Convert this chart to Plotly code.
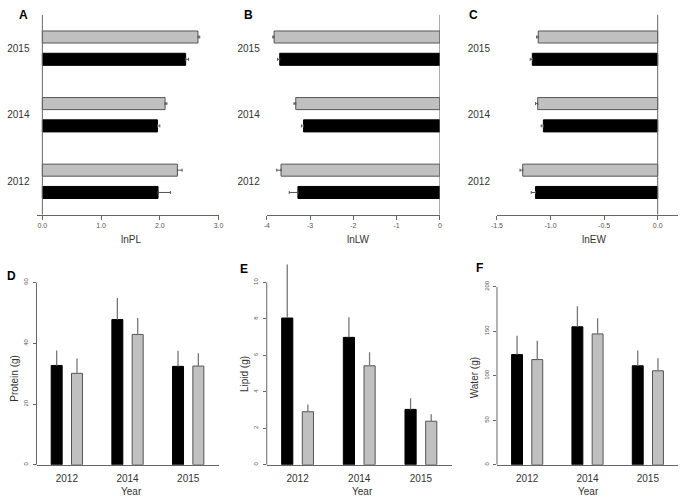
import plotly.graph_objects as go

W, H = 685, 497
years = ["2012", "2014", "2015"]

# Top panels (horizontal bars): black series and gray series, with one-sided errors
lnPL_black = [1.97, 1.96, 2.44]
lnPL_black_err = [0.21, 0.04, 0.05]
lnPL_gray = [2.30, 2.09, 2.65]
lnPL_gray_err = [0.08, 0.03, 0.03]

lnLW_black = [-3.28, -3.15, -3.70]
lnLW_black_err = [0.20, 0.05, 0.05]
lnLW_gray = [-3.67, -3.33, -3.83]
lnLW_gray_err = [0.10, 0.04, 0.03]

lnEW_black = [-1.14, -1.067, -1.17]
lnEW_black_err = [0.04, 0.02, 0.02]
lnEW_gray = [-1.26, -1.12, -1.115]
lnEW_gray_err = [0.025, 0.02, 0.015]

# Bottom panels (vertical bars)
protein_black = [32.7, 47.8, 32.4]
protein_black_err = [4.9, 7.1, 5.1]
protein_gray = [30.1, 42.9, 32.5]
protein_gray_err = [4.9, 5.4, 4.2]

lipid_black = [8.05, 6.99, 3.04]
lipid_black_err = [2.94, 1.10, 0.61]
lipid_gray = [2.91, 5.43, 2.39]
lipid_gray_err = [0.40, 0.74, 0.38]

water_black = [123.8, 155.0, 111.2]
water_black_err = [21.0, 23.2, 17.3]
water_gray = [118.2, 147.0, 105.6]
water_gray_err = [21.0, 17.6, 14.2]

FONT = "Liberation Sans, Arial, sans-serif"
AXC = "#666666"
GRAYFILL = "#c0c0c0"
EDGE = "#555555"

def px(x):
    return x / W

def py(y):
    return 1 - y / H

fig = go.Figure()

# ---------- top panels ----------
top_specs = [
    ("x", "y", lnPL_black, lnPL_black_err, lnPL_gray, lnPL_gray_err),
    ("x2", "y2", lnLW_black, lnLW_black_err, lnLW_gray, lnLW_gray_err),
    ("x3", "y3", lnEW_black, lnEW_black_err, lnEW_gray, lnEW_gray_err),
]
for xa, ya, bv, be, gv, ge in top_specs:
    pos = all(v >= 0 for v in bv)
    for vals, errs, fill, line in [(bv, be, "black", "black"), (gv, ge, GRAYFILL, EDGE)]:
        if pos:
            ex = dict(type="data", symmetric=False, array=errs, arrayminus=[0] * 3,
                      color=EDGE, thickness=1, width=1.5)
        else:
            ex = dict(type="data", symmetric=False, array=[0] * 3, arrayminus=errs,
                      color=EDGE, thickness=1, width=1.5)
        fig.add_trace(go.Bar(x=vals, y=years, orientation="h", xaxis=xa, yaxis=ya,
                             marker=dict(color=fill, line=dict(color=line, width=1)),
                             error_x=ex, showlegend=False, hoverinfo="skip"))

# ---------- bottom panels ----------
bot_specs = [
    ("x4", "y4", protein_black, protein_black_err, protein_gray, protein_gray_err),
    ("x5", "y5", lipid_black, lipid_black_err, lipid_gray, lipid_gray_err),
    ("x6", "y6", water_black, water_black_err, water_gray, water_gray_err),
]
for xa, ya, bv, be, gv, ge in bot_specs:
    for vals, errs, fill, line in [(bv, be, "black", "black"), (gv, ge, GRAYFILL, EDGE)]:
        fig.add_trace(go.Bar(x=years, y=vals, xaxis=xa, yaxis=ya,
                             marker=dict(color=fill, line=dict(color=line, width=1)),
                             error_y=dict(type="data", symmetric=False, array=errs,
                                          arrayminus=[0] * 3, color="#777777",
                                          thickness=1.3, width=0),
                             showlegend=False, cliponaxis=False, hoverinfo="skip"))

tickfont_small = dict(family=FONT, size=7, color="#555555")
catfont = dict(family=FONT, size=10, color="#333333")

top_ydom = [py(211), py(8)]
top_x = [
    ("xaxis", "yaxis", [31, 216], [-0.1, 3.0], [0, 1, 2, 3], ["0.0", "1.0", "2.0", "3.0"]),
    ("xaxis2", "yaxis2", [265, 441], [-4, 0], [-4, -3, -2, -1, 0], ["-4", "-3", "-2", "-1", "0"]),
    ("xaxis3", "yaxis3", [499, 683], [-1.5, 0.19], [-1.5, -1.0, -0.5, 0.0], ["-1.5", "-1.0", "-0.5", "0.0"]),
]
layout = {}
for i, (xk, yk, xd, xr, tv, tt) in enumerate(top_x):
    anchor_y = "y" if i == 0 else f"y{i+1}"
    anchor_x = "x" if i == 0 else f"x{i+1}"
    layout[xk] = dict(domain=[px(xd[0]), px(xd[1])], range=xr, anchor=anchor_y,
                      showline=True, linecolor=AXC, linewidth=1, ticks="outside",
                      ticklen=4, tickcolor=AXC, tickvals=tv, ticktext=tt,
                      tickfont=tickfont_small, showgrid=False, zeroline=False)
    layout[yk] = dict(domain=top_ydom, anchor=anchor_x, type="category",
                      categoryorder="array", categoryarray=years, range=[-0.5, 2.5],
                      showline=False, ticks="", tickfont=catfont, showgrid=False,
                      zeroline=False, ticklabelstandoff=6)

bot_x = [
    ("xaxis4", "yaxis4", [31, 216], [465.3, 280.0], [0, 60], [0, 60], [0, 20, 40, 60]),
    ("xaxis5", "yaxis5", [265, 453], [465.3, 259.6], [0, 11.1], [0, 10], [0, 2, 4, 6, 8, 10]),
    ("xaxis6", "yaxis6", [499, 683], [465.3, 284.3], [0, 200], [0, 200], [0, 50, 100, 150, 200]),
]
shapes = []
for i, (xk, yk, xd, yd, yr, yline, tv) in enumerate(bot_x):
    n = i + 4
    layout[xk] = dict(domain=[px(xd[0]), px(xd[1])], anchor=f"y{n}", type="category",
                      categoryorder="array", categoryarray=years, range=[-0.5, 2.5],
                      showline=True, linecolor=AXC, linewidth=1, ticks="",
                      tickfont=catfont, showgrid=False, zeroline=False,
                      ticklabelstandoff=4)
    layout[yk] = dict(domain=[py(yd[0]), py(yd[1])], anchor=f"x{n}", range=yr,
                      showline=False, ticks="outside", ticklen=3, tickcolor=AXC,
                      tickvals=tv, tickfont=dict(family=FONT, size=6, color="#555555"),
                      tickangle=-90, showgrid=False, zeroline=False, ticklabelstandoff=2)
    shapes.append(dict(type="line", xref=f"x{n} domain", yref=f"y{n}", x0=0, x1=0,
                       y0=yline[0], y1=yline[1], line=dict(color=AXC, width=1)))

# zero lines on top panels
for i in range(3):
    xr = "x" if i == 0 else f"x{i+1}"
    yr = "y" if i == 0 else f"y{i+1}"
    shapes.append(dict(type="line", xref=xr, yref=f"{yr} domain", x0=0, x1=0, y0=0, y1=1,
                       line=dict(color=AXC, width=1), layer="above"))

ann = []
def label(text, x, y, size=10, bold=False, angle=0, color="#333333"):
    ann.append(dict(text=f"<b>{text}</b>" if bold else text, x=px(x), y=py(y),
                    xref="paper", yref="paper", showarrow=False, textangle=angle,
                    font=dict(family=FONT, size=size, color=color if not bold else "black"),
                    xanchor="center", yanchor="middle"))

for t, x, y in [("A", 18, 8), ("B", 246, 8), ("C", 475, 8), ("D", 6, 273), ("E", 242, 266), ("F", 481, 265)]:
    label(t, x, y, size=12, bold=True)
for t, x, y in [("lnPL", 127, 236), ("lnLW", 358, 236), ("lnEW", 598, 236),
                ("Year", 128, 492), ("Year", 362, 492), ("Year", 592, 492)]:
    label(t, x, y)
for t, x, y in [("Protein (g)", 9, 377), ("Lipid (g)", 243, 373), ("Water (g)", 477, 377)]:
    label(t, x, y, angle=-90)

fig.update_layout(
    width=W, height=H, margin=dict(l=0, r=0, t=0, b=0),
    paper_bgcolor="white", plot_bgcolor="white",
    barmode="group", bargap=0.33, bargroupgap=0.46,
    shapes=shapes, annotations=ann, font=dict(family=FONT),
    hovermode=False,
    **layout,
)

fig.write_html("out.html", config={"displayModeBar": False, "staticPlot": True},
               post_script="document.body.style.margin='0';document.body.style.overflow='hidden';")
